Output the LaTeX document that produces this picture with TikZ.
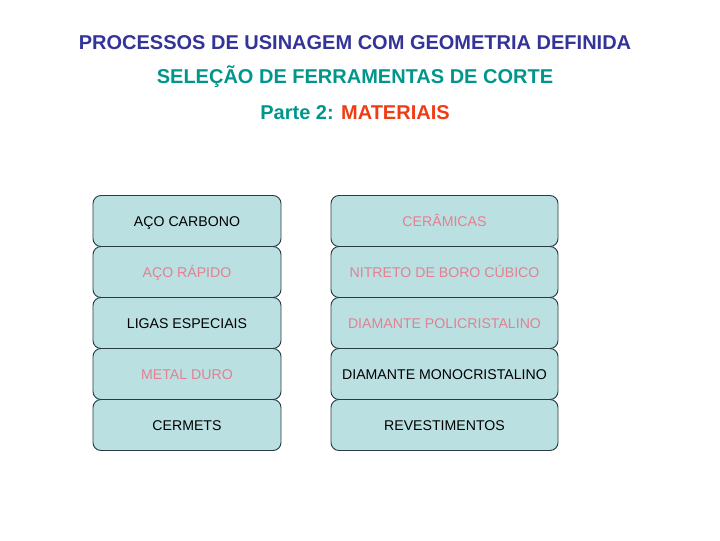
\documentclass[tikz,border=0pt]{standalone}
\usepackage{fontspec}
\setmainfont{Liberation Sans}
\usepackage{xcolor}
\usetikzlibrary{positioning}
\definecolor{titleblue}{RGB}{51,51,153}
\definecolor{titleteal}{RGB}{0,150,140}
\definecolor{titlered}{RGB}{240,60,20}
\definecolor{boxfill}{RGB}{186,224,226}
\definecolor{boxline}{RGB}{40,60,65}
\definecolor{pinktext}{RGB}{228,128,145}
\tikzset{
    matbox/.style={draw=boxline, fill=boxfill, rounded corners=6pt, line width=0.7pt,
        minimum height=38.25pt, inner sep=0pt, text height=7.6pt, text depth=0pt,
        font=\fontsize{10.6}{12}\selectfont},
    leftbox/.style={matbox, minimum width=141pt},
    rightbox/.style={matbox, minimum width=170.25pt},
    hl/.style={text=pinktext},
    titletext/.style={font=\fontsize{15}{17}\selectfont\bfseries}
}

\begin{document}
\begin{tikzpicture}[x=0.75pt, y=-0.75pt]
        \useasboundingbox (0, 0) rectangle (720, 540);

        % titulo
        \node[titletext, text=titleblue] (titulo) at (355, 43) {PROCESSOS DE USINAGEM COM GEOMETRIA DEFINIDA};
        \node[titletext, text=titleteal] (subtitulo) at (355, 77) {SELEÇÃO DE FERRAMENTAS DE CORTE};
        \node[titletext, text=titleteal] (parte) at (355, 113) {Parte 2: \textcolor{titlered}{MATERIAIS}};

        % coluna esquerda
        \node[leftbox] (carbono) at (187, 221) {AÇO CARBONO};
        \node[leftbox, hl] (rapido) at (187, 272) {AÇO RÁPIDO};
        \node[leftbox] (ligas) at (187, 323) {LIGAS ESPECIAIS};
        \node[leftbox, hl] (metalduro) at (187, 374) {METAL DURO};
        \node[leftbox] (cermets) at (187, 425) {CERMETS};

        % coluna direita
        \node[rightbox, hl] (ceramicas) at (444.5, 221) {CERÂMICAS};
        \node[rightbox, hl] (nitreto) at (444.5, 272) {NITRETO DE BORO CÚBICO};
        \node[rightbox, hl] (policristalino) at (444.5, 323) {DIAMANTE POLICRISTALINO};
        \node[rightbox] (monocristalino) at (444.5, 374) {DIAMANTE MONOCRISTALINO};
        \node[rightbox] (revestimentos) at (444.5, 425) {REVESTIMENTOS};

    \end{tikzpicture}
\end{document}
